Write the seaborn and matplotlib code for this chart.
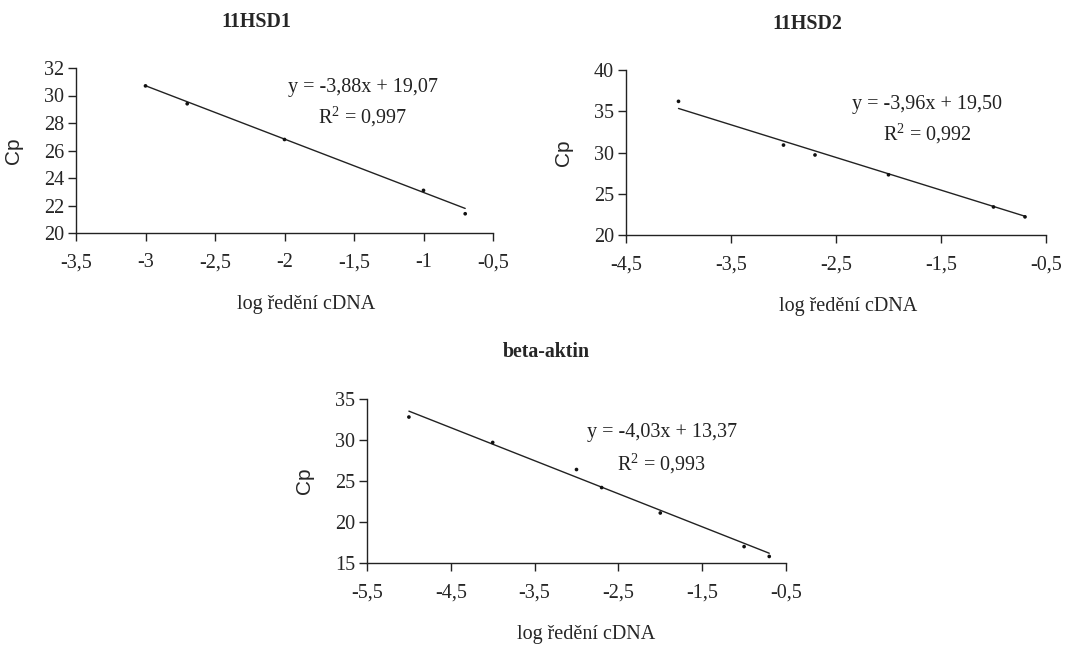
import numpy as np
import pandas as pd
import matplotlib
matplotlib.use("Agg")
import matplotlib.pyplot as plt
import seaborn as sns

# ---- data ----
titles = ["11HSD1", "11HSD2", "beta-aktin"]
hsd1_x = [-3.0, -2.7, -2.0, -1.0, -0.7]
hsd1_y = [30.7, 29.4, 26.8, 23.1, 21.4]
hsd2_x = [-4.0, -3.0, -2.7, -2.0, -1.0, -0.7]
hsd2_y = [36.2, 30.9, 29.7, 27.3, 23.4, 22.2]
actin_x = [-5.0, -4.0, -3.0, -2.7, -2.0, -1.0, -0.7]
actin_y = [32.8, 29.7, 26.4, 24.2, 21.1, 17.0, 15.8]
slopes = [-3.88, -3.96, -4.03]
intercepts = [19.07, 19.50, 13.37]
r2_labels = ["0,997", "0,992", "0,993"]
xlims = [(-3.5, -0.5), (-4.5, -0.5), (-5.5, -0.5)]
xticks = [[-3.5, -3, -2.5, -2, -1.5, -1, -0.5],
          [-4.5, -3.5, -2.5, -1.5, -0.5],
          [-5.5, -4.5, -3.5, -2.5, -1.5, -0.5]]
ylims = [(20, 32), (20, 40), (15, 35)]
yticks = [[20, 22, 24, 26, 28, 30, 32],
          [20, 25, 30, 35, 40],
          [15, 20, 25, 30, 35]]
xlabel = "log ředění cDNA"
ylabel = "Cp"

sns.set_style("ticks")
plt.rcParams["font.family"] = ["Liberation Serif", "DejaVu Serif"]
plt.rcParams["mathtext.fontset"] = "custom"
plt.rcParams["mathtext.rm"] = "Liberation Serif"
plt.rcParams["xtick.direction"] = "out"
plt.rcParams["ytick.direction"] = "out"

fig = plt.figure(figsize=(10.79, 6.45), dpi=100)
W, H = 1079, 645
boxes = [(76, 493, 68, 233), (626, 1046, 70, 235), (367, 786, 399, 563)]
eq_pos = [(0.688, 0.879, 0.703), (0.717, 0.788, 0.612), (0.704, 0.793, 0.604)]
title_x = [256, 807, 546]
xlabel_x = [306, 848, 586]
xs = [hsd1_x, hsd2_x, actin_x]
ys = [hsd1_y, hsd2_y, actin_y]


def fmt(v):
    return ("%g" % v).replace(".", ",")


for i in range(3):
    l, r, t, b = boxes[i]
    w, h = r - l, b - t
    ax = fig.add_axes([l / W, 1 - b / H, w / W, h / H])
    df = pd.DataFrame({"x": xs[i], "y": ys[i]})
    xx = np.array([min(xs[i]), max(xs[i])])
    fit = pd.DataFrame({"x": xx, "y": slopes[i] * xx + intercepts[i]})
    sns.lineplot(data=fit, x="x", y="y", ax=ax, color="#222222", lw=1.0)
    sns.scatterplot(data=df, x="x", y="y", ax=ax, color="#111111", s=7,
                    edgecolor="none", zorder=3)
    ax.set_xlim(*xlims[i])
    ax.set_ylim(*ylims[i])
    ax.set_xticks(xticks[i])
    ax.set_xticklabels([fmt(v) for v in xticks[i]], fontsize=14.5)
    ax.set_yticks(yticks[i])
    ax.set_yticklabels([fmt(v) for v in yticks[i]], fontsize=14.5)
    ax.tick_params(axis="both", length=5.5, width=1.0, color="#222222", pad=3)
    ax.tick_params(axis="x", pad=9)
    sns.despine(ax=ax)
    for sp in ("left", "bottom"):
        ax.spines[sp].set_color("#222222")
        ax.spines[sp].set_linewidth(1.0)
    ax.set_xlabel(xlabel, fontsize=14.5)
    ax.xaxis.set_label_coords((xlabel_x[i] - l) / w, -62 / h)
    ax.set_ylabel(ylabel, fontsize=15, family=["Liberation Sans", "DejaVu Sans"])
    ax.yaxis.set_label_coords(-53 / w, 0.5)
    ax.set_title(titles[i], fontsize=14.3, fontweight="bold",
                 x=(title_x[i] - l) / w, y=1 + (t - [22, 24, 352][i]) / h,
                 va="center", pad=0)
    ex, ey1, ey2 = eq_pos[i]
    sign = "+" if intercepts[i] >= 0 else "-"
    eq = "y = %sx %s %s" % (("%.2f" % slopes[i]).replace(".", ","), sign,
                             ("%.2f" % abs(intercepts[i])).replace(".", ","))
    ax.text(ex, ey1, eq, transform=ax.transAxes, ha="center", va="center",
            fontsize=14.5, color="#222222")
    ax.text(ex, ey2, "R$^{2}$ = " + r2_labels[i], transform=ax.transAxes,
            ha="center", va="center", fontsize=14.5, color="#222222")

fig.savefig("out.png", dpi=100, facecolor="white")
